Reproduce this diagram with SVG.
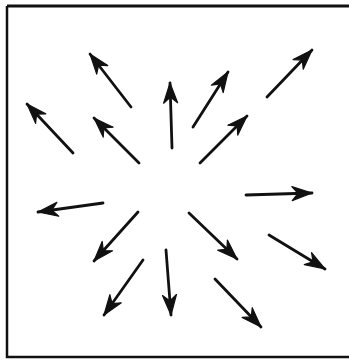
<svg xmlns="http://www.w3.org/2000/svg" width="349" height="360" viewBox="0 0 349 360">
<defs>
<marker id="ah" markerUnits="userSpaceOnUse" markerWidth="22" markerHeight="16" refX="20" refY="7" orient="auto" overflow="visible">
<path d="M0,0 L20,7 L0,14 L6,7 Z" fill="#111" stroke="#111" stroke-width="1.2" stroke-linejoin="round"/>
</marker>
<style>
.a{stroke:#111;stroke-width:2.8;fill:none;marker-end:url(#ah);stroke-linecap:round}
.f{stroke:#111;fill:none}
</style>
</defs>
<rect width="349" height="360" fill="#fff"/>
<g id="frame">
<path class="f" d="M7,6 H349" stroke-width="3"/>
<path class="f" d="M7,6 V357 H349" stroke-width="2.5"/>
</g>
<g id="connectors">
<line class="a" x1="131" y1="107" x2="90" y2="54"/>
<line class="a" x1="73" y1="153" x2="27" y2="104"/>
<line class="a" x1="139" y1="163" x2="94" y2="118"/>
<line class="a" x1="172" y1="148" x2="170" y2="83"/>
<line class="a" x1="193" y1="127" x2="228" y2="72"/>
<line class="a" x1="200" y1="163" x2="247" y2="116"/>
<line class="a" x1="267" y1="97" x2="312" y2="50"/>
<line class="a" x1="103" y1="203" x2="38" y2="212"/>
<line class="a" x1="246" y1="195" x2="312" y2="193"/>
<line class="a" x1="138" y1="212" x2="94" y2="261"/>
<line class="a" x1="189" y1="213" x2="237" y2="259"/>
<line class="a" x1="269" y1="235" x2="325" y2="269"/>
<line class="a" x1="143" y1="260" x2="104" y2="315"/>
<line class="a" x1="166" y1="250" x2="171" y2="315"/>
<line class="a" x1="215" y1="279" x2="261" y2="327"/>
</g>
</svg>
